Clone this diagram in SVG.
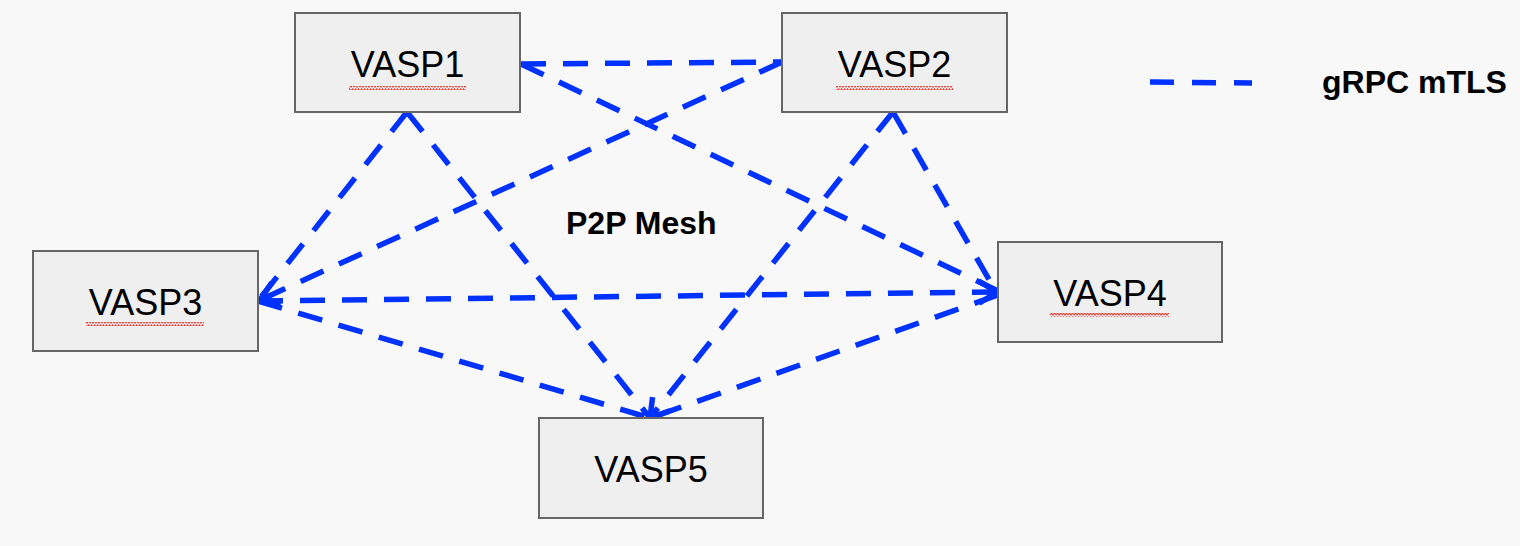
<svg xmlns="http://www.w3.org/2000/svg" width="1520" height="546" viewBox="0 0 1520 546">
<defs>
<style>
.box{fill:#efefef;stroke:#666;stroke-width:2}
.lbl{font-family:"Liberation Sans",Arial,sans-serif;font-size:36px;fill:#000;text-anchor:middle}
.bold{font-family:"Liberation Sans",Arial,sans-serif;font-weight:bold;fill:#000}
.edge{fill:none;stroke:#0032ff;stroke-width:5.5;stroke-dasharray:25 17}
</style>
<pattern id="zz" x="0" y="0" width="6" height="4" patternUnits="userSpaceOnUse">
<polyline points="0,3.2 1.5,0.8 3,3.2 4.5,0.8 6,3.2" fill="none" stroke="#e0413a" stroke-width="1.1"/>
</pattern>
<marker id="arr" viewBox="-22 -14 26 28" markerWidth="26" markerHeight="28" refX="0" refY="0" orient="auto" markerUnits="userSpaceOnUse">
<polyline points="-18,-11 0,0 -18,11" fill="none" stroke="#0032ff" stroke-width="5.5" stroke-linejoin="miter"/>
</marker>
</defs>
<rect width="1520" height="546" fill="#f8f8f8"/>
<g id="connectors">
<line class="edge" x1="521" y1="64" x2="782" y2="62"/>
<line class="edge" x1="521" y1="64" x2="996" y2="290"/>
<line class="edge" x1="782" y1="62" x2="260" y2="300" marker-end="url(#arr)"/>
<line class="edge" x1="407" y1="112" x2="258" y2="301"/>
<line class="edge" x1="407" y1="112" x2="650" y2="418"/>
<line class="edge" x1="893" y1="112" x2="650" y2="418" marker-end="url(#arr)"/>
<line class="edge" x1="893" y1="112" x2="995" y2="290"/>
<line class="edge" x1="258" y1="301" x2="997" y2="292" marker-end="url(#arr)"/>
<line class="edge" x1="258" y1="301" x2="650" y2="418"/>
<line class="edge" x1="998" y1="295" x2="650" y2="418"/>
</g>
<g id="legend">
<line class="edge" x1="1150" y1="82" x2="1252" y2="83" style="stroke-dasharray:24 18;stroke-width:5.5"/>
<text class="bold" x="1322" y="93" font-size="32">gRPC mTLS</text>
</g>
<g id="mesh-label">
<text class="bold" x="566" y="234" font-size="32">P2P Mesh</text>
</g>
<g id="vasp1">
<rect class="box" x="295" y="13" width="225" height="99"/>
<text class="lbl" x="407.5" y="76.5">VASP1</text>
<rect x="349" y="86" width="117" height="4" fill="url(#zz)"/>
</g>
<g id="vasp2">
<rect class="box" x="782" y="13" width="225" height="99"/>
<text class="lbl" x="894.5" y="76.5">VASP2</text>
<rect x="836" y="86" width="117" height="4" fill="url(#zz)"/>
</g>
<g id="vasp3">
<rect class="box" x="33" y="251" width="225" height="100"/>
<text class="lbl" x="145.5" y="315">VASP3</text>
<rect x="86" y="322" width="118" height="4" fill="url(#zz)"/>
</g>
<g id="vasp4">
<rect class="box" x="998" y="242" width="224" height="100"/>
<text class="lbl" x="1110" y="306">VASP4</text>
<rect x="1050" y="313" width="119" height="4" fill="url(#zz)"/>
</g>
<g id="vasp5">
<rect class="box" x="539" y="418" width="224" height="100"/>
<text class="lbl" x="651" y="482">VASP5</text>
</g>
</svg>
